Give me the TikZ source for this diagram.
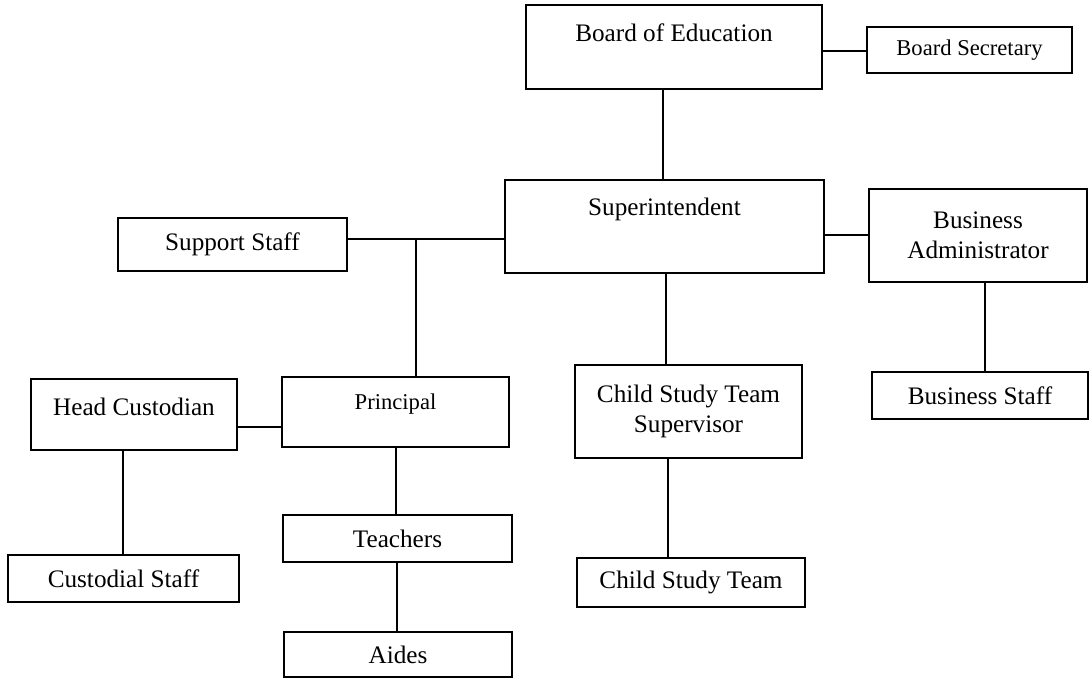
\documentclass[tikz,border=0pt]{standalone}
\usepackage{fontspec}
\setmainfont{Liberation Serif}

\begin{document}
\begin{tikzpicture}[x=0.5pt, y=-0.5pt, line width=0.75pt]
		\tikzstyle{every node}=[draw,rectangle,fill=white,line width=1pt,inner sep=0pt,align=center,font=\fontsize{12.6}{15}\selectfont]
		\tikzstyle{small}=[font=\fontsize{11.3}{13.5}\selectfont]
		\useasboundingbox (0,0) rectangle (1090,678);

		% top of the chart
		\draw (674,47) node[minimum width=148pt, text height=18.2pt, text depth=23.8pt] (board) {Board of Education};
		\draw (969.5,50) node[small, minimum width=102.5pt, minimum height=23pt] (sec) {Board Secretary};
		\draw (664.5,226.5) node[minimum width=159.5pt, text height=17.7pt, text depth=28.8pt] (supt) {Superintendent};
		\draw (978,235.5) node[minimum width=109pt, minimum height=46.5pt] (badm) {Business\\Administrator};
		\draw (232.5,244.5) node[minimum width=114.5pt, minimum height=26.5pt] (sup) {Support Staff};

		% schools
		\draw (395.5,412) node[small, minimum width=113.5pt, text height=16.3pt, text depth=18.7pt] (prin) {Principal};
		\draw (134,414.5) node[minimum width=103pt, text height=18.2pt, text depth=17.3pt] (head) {Head Custodian};
		\draw (397.5,538.5) node[minimum width=114.5pt, minimum height=23.5pt] (teach) {Teachers};
		\draw (398,654.5) node[minimum width=114pt, minimum height=22.5pt] (aides) {Aides};
		\draw (123.5,578.5) node[minimum width=115.5pt, minimum height=23.5pt] (cust) {Custodial Staff};

		% child study and business
		\draw (688.5,411.5) node[minimum width=113.5pt, minimum height=46.5pt] (csts) {Child Study Team\\Supervisor};
		\draw (691,582.5) node[minimum width=114pt, minimum height=24.5pt] (cst) {Child Study Team};
		\draw (980,395.5) node[minimum width=108pt, minimum height=23.5pt] (bstaff) {Business Staff};

		\coordinate (j) at (416,239);

		\draw (board.east |- 0,51) -- (sec.west |- 0,51);
		\draw (board.south -| 663,0) -- (supt.north -| 663,0);
		\draw (supt.east |- 0,235) -- (badm.west |- 0,235);
		\draw (sup.east |- j) -- (supt.west |- j);
		\draw (j) -- (prin.north -| j);
		\draw (head.east |- 0,427) -- (prin.west |- 0,427);
		\draw (head.south -| 123,0) -- (cust.north -| 123,0);
		\draw (prin.south -| 396,0) -- (teach.north -| 396,0);
		\draw (teach.south -| 397,0) -- (aides.north -| 397,0);
		\draw (supt.south -| 666,0) -- (csts.north -| 666,0);
		\draw (csts.south -| 668,0) -- (cst.north -| 668,0);
		\draw (badm.south -| 985,0) -- (bstaff.north -| 985,0);
	\end{tikzpicture}
\end{document}
